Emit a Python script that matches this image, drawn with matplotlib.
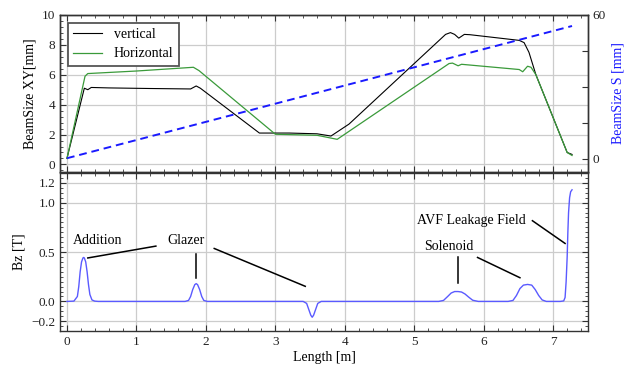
import matplotlib
matplotlib.use("Agg")
import matplotlib.pyplot as plt
from matplotlib.ticker import MultipleLocator

plt.rcParams['font.family'] = ['Liberation Serif', 'DejaVu Serif']
plt.rcParams['mathtext.fontset'] = 'stix'

# --- data ---
vert_x = [0.0, 0.25, 0.30, 0.35, 0.6, 1.2, 1.78, 1.86, 1.92, 2.77, 3.2, 3.6, 3.8, 4.06, 5.45, 5.52, 5.58, 5.64, 5.72, 5.8, 6.51, 6.58, 6.65, 6.75, 7.2, 7.27]
vert_y = [0.4, 5.1, 5.0, 5.15, 5.12, 5.08, 5.05, 5.25, 5.1, 2.1, 2.1, 2.05, 1.9, 2.7, 8.7, 8.82, 8.7, 8.45, 8.7, 8.68, 8.3, 8.15, 7.5, 6.0, 0.8, 0.67]
hor_x = [0.0, 0.26, 0.30, 1.0, 1.82, 1.9, 3.0, 3.6, 3.89, 5.5, 5.55, 5.63, 5.68, 6.51, 6.56, 6.63, 6.68, 6.75, 7.2, 7.27]
hor_y = [0.4, 5.9, 6.08, 6.25, 6.5, 6.28, 2.02, 1.95, 1.68, 6.75, 6.78, 6.6, 6.7, 6.35, 6.2, 6.57, 6.5, 6.0, 0.8, 0.6]
s_x = [0.0, 7.27]
s_y = [0.3, 55.4]

bz_x = [0.0, 0.1, 0.15, 0.17, 0.19, 0.21, 0.23, 0.24, 0.25, 0.27, 0.29, 0.31, 0.33, 0.36, 0.40, 0.45,
        1.70, 1.75, 1.78, 1.81, 1.84, 1.86, 1.88, 1.91, 1.94, 1.97, 2.02,
        3.40, 3.45, 3.48, 3.51, 3.53, 3.55, 3.58, 3.61, 3.66,
        5.35, 5.42, 5.48, 5.53, 5.58, 5.63, 5.68, 5.73, 5.78, 5.84, 5.92,
        6.35, 6.42, 6.47, 6.52, 6.57, 6.63, 6.69, 6.74, 6.79, 6.84, 6.90,
        7.10, 7.15, 7.17, 7.185, 7.20, 7.21, 7.22, 7.235, 7.25, 7.27]
bz_y = [0.0, 0.003, 0.05, 0.15, 0.30, 0.40, 0.44, 0.445, 0.44, 0.40, 0.30, 0.17, 0.07, 0.015, 0.003, 0.0,
        0.0, 0.01, 0.05, 0.12, 0.17, 0.18, 0.17, 0.12, 0.05, 0.01, 0.0,
        0.0, -0.02, -0.08, -0.14, -0.16, -0.14, -0.08, -0.02, 0.0,
        0.0, 0.01, 0.05, 0.085, 0.10, 0.10, 0.095, 0.075, 0.045, 0.012, 0.0,
        0.0, 0.01, 0.06, 0.13, 0.165, 0.172, 0.165, 0.12, 0.06, 0.015, 0.0,
        0.0, 0.005, 0.04, 0.20, 0.45, 0.70, 0.90, 1.05, 1.11, 1.13]

# annotations: (text, text_x, text_y, [line segments])
annotations = [
    ("Addition", 0.44, 0.62, [((0.30, 0.44), (1.28, 0.56))]),
    ("Glazer", 1.72, 0.62, [((1.855, 0.485), (1.855, 0.24)), ((2.12, 0.536), (3.43, 0.153))]),
    ("Solenoid", 5.49, 0.56, [((5.63, 0.445), (5.63, 0.186)), ((5.91, 0.445), (6.52, 0.24))]),
    ("AVF Leakage Field", 5.82, 0.815, [((6.70, 0.817), (7.17, 0.587))]),
]

fig = plt.figure(figsize=(6.35, 3.65), dpi=100)
ax1 = fig.add_axes([0.0945, 0.529, 0.8315, 0.430])
ax2 = fig.add_axes([0.0945, 0.093, 0.8315, 0.433])
ax1r = ax1.twinx()

grid_kw = dict(color='#cccccc', lw=0.9)
spine_c = '#333333'

ax1.plot(vert_x, vert_y, color='black', lw=0.8, label='vertical', zorder=3)
ax1.plot(hor_x, hor_y, color='#3a9a3a', lw=0.9, label='Horizontal', zorder=3)
ax1r.plot(s_x, s_y, color='#1a1aff', lw=1.4, ls=(0, (4, 2.5)))

ax1.set_xlim(-0.1, 7.5)
ax1.set_ylim(-0.5, 10)
ax1r.set_ylim(-5.4, 60)
ax1.set_yticks([0, 2, 4, 6, 8, 10])
ax1.yaxis.set_minor_locator(MultipleLocator(0.4))
ax1.set_xticks(range(8))
ax1.xaxis.set_minor_locator(MultipleLocator(0.2))
ax1r.set_yticks([0, 15, 30, 45, 60])
ax1r.set_yticklabels(['0', '', '', '', '60'])
ax1.grid(True, which='major', **grid_kw)
ax1.set_ylabel('BeamSize XY[mm]', fontsize=10)
ax1r.set_ylabel('BeamSize S [mm]', fontsize=10, color='#1a1aff')

leg = ax1.legend(loc='upper left', fontsize=10, frameon=True, fancybox=False,
                 handlelength=2.1, handletextpad=0.8, borderpad=0.4, labelspacing=0.45,
                 borderaxespad=0.0, bbox_to_anchor=(0.0146, 0.951))
leg.get_frame().set_edgecolor('#555555')
leg.get_frame().set_linewidth(1.3)
leg.get_frame().set_facecolor('white')
leg.get_frame().set_alpha(1)

ax2.plot(bz_x, bz_y, color='#5a5aff', lw=1.0)
ax2.set_xlim(-0.1, 7.5)
ax2.set_ylim(-0.3, 1.3)
ax2.set_yticks([-0.2, 0.0, 0.5, 1.0, 1.2])
ax2.set_yticklabels(['\u22120.2', '0.0', '0.5', '1.0', '1.2'])
ax2.yaxis.set_minor_locator(MultipleLocator(0.05))
ax2.set_xticks(range(8))
ax2.xaxis.set_minor_locator(MultipleLocator(0.2))
ax2.grid(True, which='major', **grid_kw)
ax2.set_ylabel('Bz [T]', fontsize=10)
ax2.set_xlabel('Length [m]', fontsize=10, labelpad=2)

for txt, tx, ty, segs in annotations:
    ax2.text(tx, ty, txt, fontsize=10, ha='center', va='center')
    for (x0, y0), (x1, y1) in segs:
        ax2.plot([x0, x1], [y0, y1], color='black', lw=1.1)

for a in (ax1, ax2, ax1r):
    for s in a.spines.values():
        s.set_color(spine_c)
        s.set_linewidth(1.0)
    a.tick_params(which='both', direction='in', labelsize=9.5, colors=spine_c, labelcolor='#222222')
    a.tick_params(which='major', length=4)
    a.tick_params(which='minor', length=2)
ax1.tick_params(which='both', top=True, right=False)
ax2.tick_params(which='both', top=True, right=True)
ax1.tick_params(labelbottom=False)

fig.savefig('out.png', dpi=100)
